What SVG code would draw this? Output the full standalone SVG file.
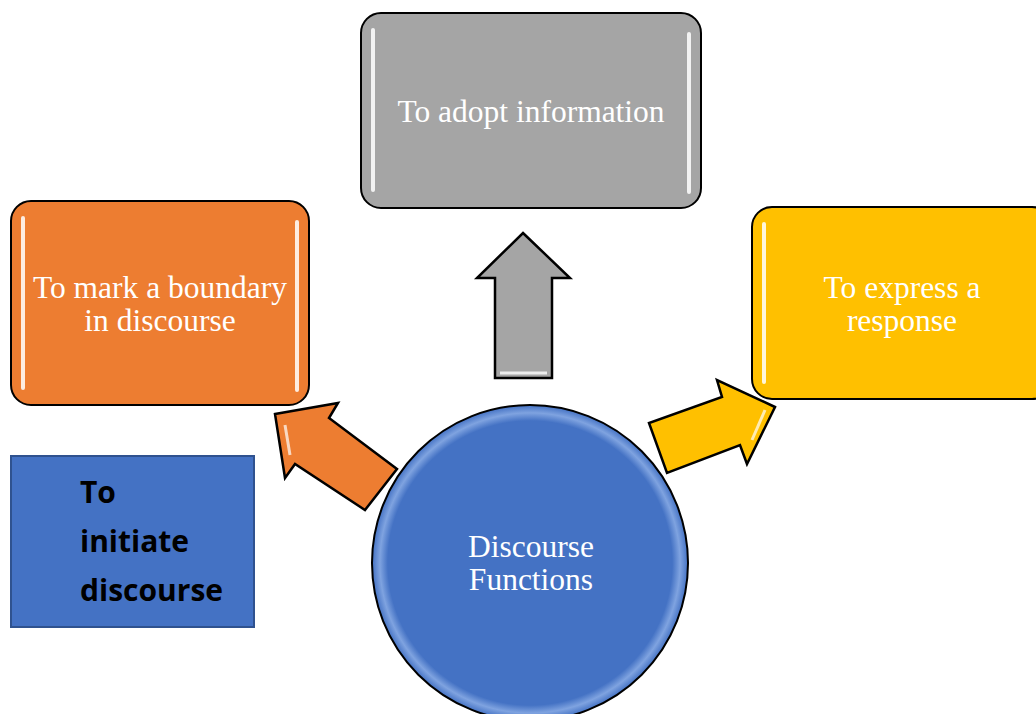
<svg xmlns="http://www.w3.org/2000/svg" width="1036" height="714" viewBox="0 0 1036 714">
<defs>
<style>
.box{stroke:#000;stroke-width:2}
.hl{stroke:#fff;stroke-width:4;stroke-linecap:round;opacity:0.85;fill:none}
.lbl{font-family:"Liberation Serif","Times New Roman",serif;font-size:31.5px;fill:#fff;text-anchor:middle}
.blbl{font-family:"Open Sans","Liberation Sans",sans-serif;font-weight:bold;font-size:30px;fill:#000}
.arr{stroke:#000;stroke-width:2.5;stroke-linejoin:miter}
</style>
<radialGradient id="cg" cx="0.5" cy="0.5" r="0.5">
<stop offset="0.9" stop-color="#4472C4"/>
<stop offset="0.95" stop-color="#7FA3E0"/>
<stop offset="1" stop-color="#4472C4"/>
</radialGradient>
</defs>
<rect width="1036" height="714" fill="#fff"/>
<g id="connectors">
<path class="arr" fill="#A5A5A5" d="M523,233 L570,278 L552,278 L552,378 L495,378 L495,278 L477,278 Z"/>
<path d="M500,373 L547,373" stroke="#fff" stroke-width="3" opacity="0.8"/>
<path class="arr" fill="#ED7D31" d="M275,414 L338,403 L329,418 L397,469 L365,510 L295,464 L285,478 Z"/>
<path d="M285,425 L290,455" stroke="#fff" stroke-width="3" opacity="0.7"/>
<path class="arr" fill="#FFC000" d="M775,407 L717,380 L722,397 L649,423 L667,473 L740,445 L747,464 Z"/>
<path d="M765,410 L752,440" stroke="#fff" stroke-width="3" opacity="0.7"/>
</g>
<g id="node-adopt">
<rect class="box" x="361" y="13" width="340" height="195" rx="20" fill="#A5A5A5"/>
<line class="hl" x1="373" y1="30" x2="373" y2="190"/>
<line class="hl" x1="689" y1="34" x2="689" y2="192"/>
<text class="lbl" x="531" y="122">To adopt information</text>
</g>
<g id="node-boundary">
<rect class="box" x="11" y="201" width="298" height="204" rx="20" fill="#ED7D31"/>
<line class="hl" x1="23" y1="218" x2="23" y2="388"/>
<line class="hl" x1="297" y1="222" x2="297" y2="390"/>
<text class="lbl" x="160" y="298">To mark a boundary</text>
<text class="lbl" x="160" y="331">in discourse</text>
</g>
<g id="node-response">
<rect class="box" x="752" y="207" width="300" height="192" rx="20" fill="#FFC000"/>
<line class="hl" x1="764" y1="224" x2="764" y2="382"/>
<text class="lbl" x="902" y="298">To express a</text>
<text class="lbl" x="902" y="331">response</text>
</g>
<g id="node-initiate">
<rect x="11" y="456" width="243" height="171" fill="#4472C4" stroke="#2F528F" stroke-width="2"/>
<text class="blbl" x="80" y="503">To</text>
<text class="blbl" x="80" y="552">initiate</text>
<text class="blbl" x="80" y="601">discourse</text>
</g>
<g id="node-center">
<circle cx="530" cy="563" r="158" fill="url(#cg)" stroke="#000" stroke-width="2"/>
<text class="lbl" x="531" y="557">Discourse</text>
<text class="lbl" x="531" y="590">Functions</text>
</g>
</svg>
